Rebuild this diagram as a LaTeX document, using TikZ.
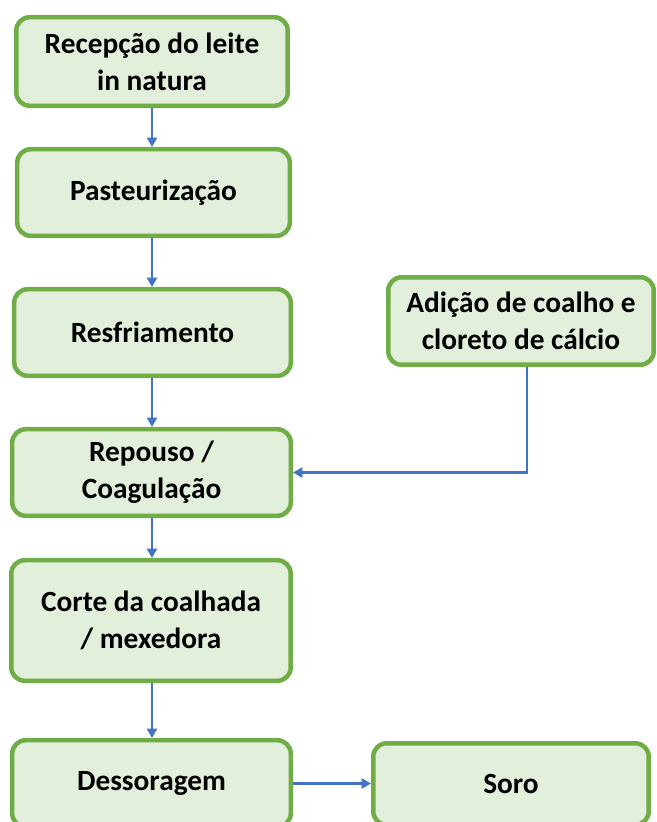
\documentclass[tikz,border=0pt]{standalone}
\usepackage{fontspec}
\setmainfont{Carlito}
\usetikzlibrary{arrows.meta}
\definecolor{boxfill}{HTML}{E2EFDA}
\definecolor{boxline}{HTML}{70AD47}
\definecolor{arrowblue}{HTML}{4472C4}
\begin{document}
\begin{tikzpicture}[x=0.75pt,y=-0.75pt,
  stepbox/.style={draw=boxline,fill=boxfill,line width=3.375pt,rounded corners=10pt,
    align=center,inner sep=0pt,font=\fontsize{22}{27.75}\selectfont\bfseries},
  flow/.style={draw=arrowblue,line width=1.9pt,-{Triangle[width=7.5pt,length=7pt]}}]
\useasboundingbox (0,0) rectangle (657,822);
\clip (0,0) rectangle (657,822);
\node[stepbox,minimum width=203.6pt,minimum height=66.4pt] (rec) at (152,61.5) {Recepção do leite\\in natura};
\node[stepbox,minimum width=204.4pt,minimum height=64.9pt] (pas) at (153.5,192.5) {Pasteurização};
\node[stepbox,minimum width=207.4pt,minimum height=64.9pt] (res) at (152.5,332.5) {Resfriamento};
\node[stepbox,minimum width=208.9pt,minimum height=64.9pt] (rep) at (151.5,472.5) {Repouso /\\Coagulação};
\node[stepbox,minimum width=209.6pt,minimum height=90.4pt] (cor) at (151,620.5) {Corte da coalhada\\/ mexedora};
\node[stepbox,minimum width=208.9pt,minimum height=64.9pt] (des) at (151.5,783.5) {Dessoragem};
\node[stepbox,minimum width=206.6pt,minimum height=61.1pt] (sor) at (511,784) {Soro};
\node[stepbox,minimum width=199.1pt,minimum height=65.6pt] (adi) at (521,321) {Adição de coalho e\\cloreto de cálcio};
\draw[flow] (rec.south -| 152,0) -- (pas.north -| 152,0);
\draw[flow] (pas.south -| 152,0) -- (res.north -| 152,0);
\draw[flow] (res.south -| 152,0) -- (rep.north -| 152,0);
\draw[flow] (rep.south -| 152,0) -- (cor.north -| 152,0);
\draw[flow] (cor.south -| 152,0) -- (des.north -| 152,0);
\draw[flow] (des.east) -- (sor.west |- des.east);
\draw[flow] ([xshift=4.5pt]adi.south) |- (rep.east);
\end{tikzpicture}
\end{document}
